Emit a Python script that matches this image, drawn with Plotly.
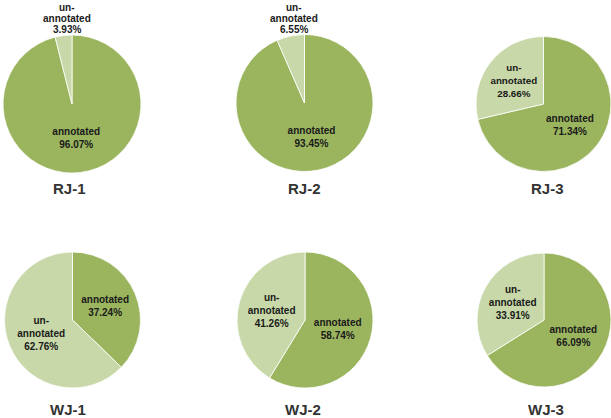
import math
import plotly.graph_objects as go

# Share of annotated vs un-annotated sequences per sample (%)
samples = ["RJ-1", "RJ-2", "RJ-3", "WJ-1", "WJ-2", "WJ-3"]
annotated = [96.07, 93.45, 71.34, 37.24, 58.74, 66.09]
unannotated = [3.93, 6.55, 28.66, 62.76, 41.26, 33.91]
slice_names = ["annotated", "un-annotated"]
slice_text = ["annotated", "un-<br>annotated"]

W, H = 611, 418
# pie placement in pixels: centre x, centre y (from top), radius
pie_boxes = [
    (72, 104, 69), (304.5, 103, 68.5), (545, 104, 69),
    (72.5, 320, 68), (305, 320, 68), (545, 320, 68),
]
title_pos = [(69, 188), (304, 188), (547, 188), (68, 409), (303, 409), (546, 409)]

GREEN = "#9BB55F"
LIGHT = "#C8D8A8"
FONT = "Liberation Sans, Arial, sans-serif"
LABEL_FONT = dict(family=FONT, size=10, color="#1a1a1a", weight="bold")
OUTSIDE_LINE_GAP = 11  # px between stacked lines of an outside label

fig = go.Figure()
for i, name in enumerate(samples):
    cx, cy, r = pie_boxes[i]
    x0 = max(cx - r, 0) / W
    x1 = min(cx + r, W) / W
    y0 = (H - cy - r) / H
    y1 = (H - cy + r) / H
    # pie actually drawn inside the (possibly clipped) domain box
    dcx = (x0 + x1) / 2 * W
    dr = min((x1 - x0) * W, (y1 - y0) * H) / 2
    total = annotated[i] + unannotated[i]
    small = unannotated[i] / total < 0.10
    fig.add_trace(go.Pie(
        labels=slice_names,
        values=[annotated[i], unannotated[i]],
        text=slice_text,
        texttemplate="%{text}<br>%{percent:.2%}",
        textposition=["inside", "none" if small else "inside"],
        insidetextorientation="horizontal",
        textfont=LABEL_FONT,
        marker=dict(colors=[GREEN, LIGHT], line=dict(color="white", width=0.8)),
        sort=False,
        direction="clockwise",
        rotation=0,
        hoverinfo="label+percent",
        domain=dict(x=[x0, x1], y=[y0, y1]),
        showlegend=False,
        automargin=False,
    ))
    if small:
        # thin slice: label sits just outside the rim, on the slice bisector
        frac = unannotated[i] / total
        theta = 2 * math.pi * (1 - frac / 2)  # clockwise from 12 o'clock
        ex = dcx + dr * math.sin(theta) + 3
        ey = cy - dr * math.cos(theta)
        lines = ["un-", "annotated", f"{frac * 100:.2f}%"]
        for k, line in enumerate(reversed(lines)):
            ly = ey - k * OUTSIDE_LINE_GAP
            fig.add_annotation(
                x=ex / W, y=1 - ly / H, xref="paper", yref="paper",
                text=line, showarrow=False,
                font=LABEL_FONT, xanchor="center", yanchor="bottom",
                borderpad=0,
            )
    tx, ty = title_pos[i]
    fig.add_annotation(
        x=tx / W, y=1 - ty / H, xref="paper", yref="paper",
        text=name, showarrow=False,
        font=dict(family=FONT, size=15, color="#333333", weight="bold"),
        xanchor="center", yanchor="middle",
    )

fig.update_layout(
    width=W, height=H,
    margin=dict(l=0, r=0, t=0, b=0),
    paper_bgcolor="white",
    plot_bgcolor="white",
)

fig.write_html("out.html")
